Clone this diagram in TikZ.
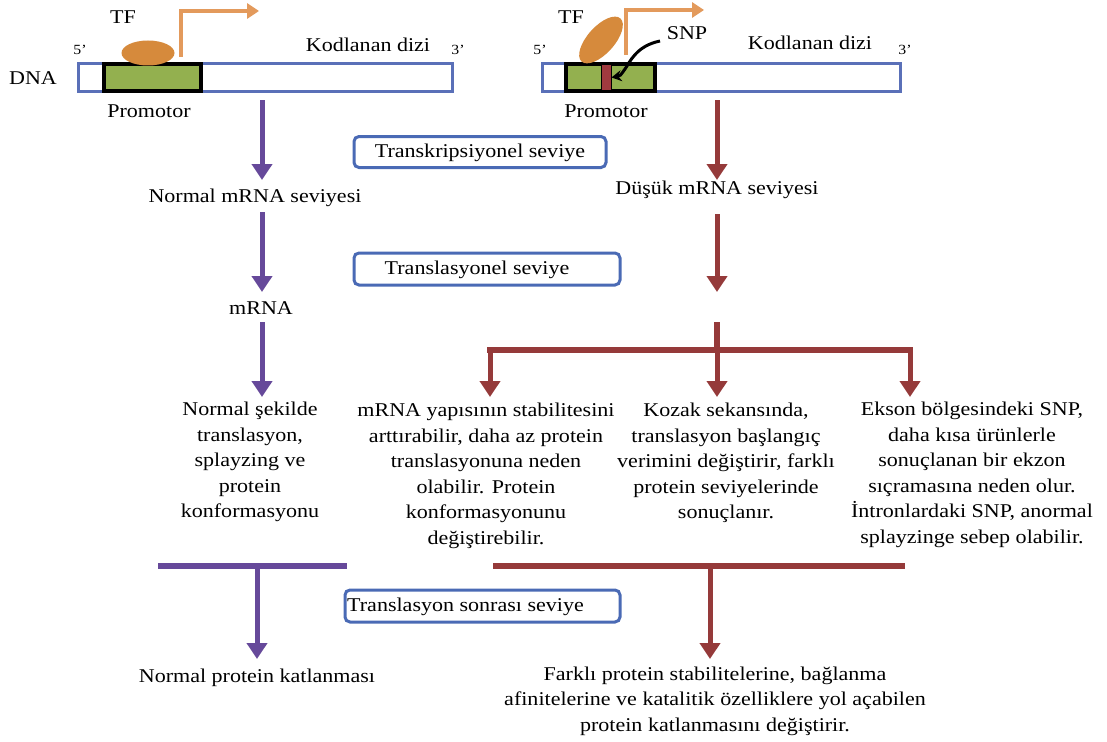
\documentclass[tikz,border=0pt]{standalone}
\usepackage{fontspec}
\setmainfont{Liberation Serif}[FakeStretch=1.13]
\usetikzlibrary{arrows.meta,shapes.geometric}
\definecolor{purp}{HTML}{66499A}
\definecolor{darkred}{HTML}{953A3A}
\definecolor{boxblue}{HTML}{4A6AB5}
\definecolor{dnablue}{HTML}{5A70B8}
\definecolor{promgreen}{HTML}{93B04F}
\definecolor{tforange}{HTML}{D68A3C}
\definecolor{arrorange}{HTML}{E39A5C}
\definecolor{snpred}{HTML}{A03A3F}
\begin{document}
\begin{tikzpicture}[x=1bp,y=-1bp,
  txt/.style={font=\fontsize{19.5bp}{25.5bp}\selectfont, align=center, inner sep=0pt},
  small/.style={font=\fontsize{14bp}{16bp}\selectfont, inner sep=0pt},
  lvl/.style={draw=boxblue, line width=3bp, rounded corners=5bp, inner sep=0pt},
  dnabox/.style={draw=dnablue, line width=3bp, fill=white, inner sep=0pt, minimum height=27bp},
  prom/.style={draw=black, line width=3.5bp, fill=promgreen, inner sep=0pt, minimum height=27bp},
  tf/.style={ellipse, fill=tforange, inner sep=0pt},
  parr/.style={draw=purp, line width=5bp, -{Triangle[width=20bp,length=16bp]}},
  rarr/.style={draw=darkred, line width=5bp, -{Triangle[width=20bp,length=16bp]}},
  pline/.style={draw=purp, line width=5.5bp},
  rline/.style={draw=darkred, line width=5.5bp},
  oarr/.style={draw=arrorange, line width=3.5bp, -{Triangle[width=15bp,length=12bp]}}
]
\useasboundingbox (0,0) rectangle (1107,742);
\fill[white] (0,0) rectangle (1107,742);

% ---- left DNA ----
\node[dnabox, minimum width=373bp] (dnaL) at (265.5,77.5) {};
\node[prom, minimum width=97bp] (promL) at (152.5,77.5) {};
\node[tf, minimum width=53bp, minimum height=25bp] (tfL) at (148,53) {};
\coordinate (oL0) at (181,57);
\coordinate (oL1) at (259,11);
\draw[oarr] (oL0) |- (oL1);
\node[txt] (tfLt) at (123,17) {TF};
\node[small] (fiveL) at (80,50) {5’};
\node[txt] (kodL) at (368,45) {Kodlanan dizi};
\node[small] (threeL) at (458,50) {3’};
\node[txt] (dna) at (33,78) {DNA};
\node[txt] (promLt) at (149,111) {Promotor};

% ---- right DNA ----
\node[dnabox, minimum width=358bp] (dnaR) at (721,77.5) {};
\node[prom, minimum width=89bp] (promR) at (610.5,77.5) {};
\node[draw=black, line width=1bp, fill=snpred, inner sep=0pt, minimum width=10bp, minimum height=26bp] (snp) at (606,77.5) {};
\node[tf, minimum width=58bp, minimum height=27bp, rotate=48] (tfR) at (601,40) {};
\coordinate (oR0) at (626,55);
\coordinate (oR1) at (704,10);
\draw[oarr] (oR0) |- (oR1);
\node[txt] (tfRt) at (571,17) {TF};
\node[txt] (snpt) at (687,33) {SNP};
\coordinate (snps) at (660,41);
\draw[line width=3bp, -{Stealth[length=10bp,width=11bp]}] (snps) .. controls (636,46) and (630,62) .. (625,69) .. controls (620,76) .. (snp.east);
\node[small] (fiveR) at (540,50) {5’};
\node[txt] (kodR) at (810,43) {Kodlanan dizi};
\node[small] (threeR) at (905,50) {3’};
\node[txt] (promRt) at (606,111) {Promotor};

% ---- level boxes ----
\node[lvl, minimum width=252bp, minimum height=31bp] (lv1) at (480,152) {};
\node[txt] (lv1t) at (480,153) {Transkripsiyonel seviye};
\node[lvl, minimum width=266bp, minimum height=32bp] (lv2) at (487,269) {};
\node[txt] (lv2t) at (477,270) {Translasyonel seviye};
\node[lvl, minimum width=275bp, minimum height=32bp] (lv3) at (482.5,606) {};
\node[txt, anchor=west] (lv3t) at (347,607) {Translasyon sonrası seviye};

% ---- left column ----
\node[txt] (nmrna) at (255,198) {Normal mRNA seviyesi};
\node[txt] (mrna) at (261,308) {mRNA};
\node[txt] (normtr) at (250,462) {Normal şekilde\\translasyon,\\splayzing ve\\protein\\konformasyonu};
\node[txt] (normfold) at (257,678) {Normal protein katlanması};

\coordinate (pa0) at (262,100);
\coordinate (pa1) at (262,180);
\coordinate (pb0) at (262,212);
\coordinate (pb1) at (262,292);
\coordinate (pc0) at (262,322);
\coordinate (pc1) at (262,397);
\draw[parr] (pa0) -- (pa1);
\draw[parr] (pb0) -- (pb1);
\draw[parr] (pc0) -- (pc1);

\coordinate (pl0) at (158,566);
\coordinate (pl1) at (347,566);
\coordinate (pd0) at (257,566);
\coordinate (pd1) at (257,659);
\draw[pline] (pl0) -- (pl1);
\draw[parr] (pd0) -- (pd1);

% ---- right column ----
\node[txt] (dmrna) at (717,190) {Düşük mRNA seviyesi};
\node[txt] (stab) at (486,476) {mRNA yapısının stabilitesini\\arttırabilir, daha az protein\\translasyonuna neden\\olabilir. Protein\\konformasyonunu\\değiştirebilir.};
\node[txt] (kozak) at (726,463) {Kozak sekansında,\\translasyon başlangıç\\verimini değiştirir, farklı\\protein seviyelerinde\\sonuçlanır.};
\node[txt] (ekson) at (972,475) {Ekson bölgesindeki SNP,\\daha kısa ürünlerle\\sonuçlanan bir ekzon\\sıçramasına neden olur.\\İntronlardaki SNP, anormal\\splayzinge sebep olabilir.};
\node[txt] (difffold) at (715,701) {Farklı protein stabilitelerine, bağlanma\\afinitelerine ve katalitik özelliklere yol açabilen\\protein katlanmasını değiştirir.};

\coordinate (ra0) at (717,100);
\coordinate (ra1) at (717,180);
\coordinate (rb0) at (717,214);
\coordinate (rb1) at (717,292);
\coordinate (rc0) at (717,322);
\coordinate (rh) at (717,350);
\coordinate (rhl) at (490,350);
\coordinate (rhr) at (910,350);
\coordinate (rl1) at (490,397);
\coordinate (rm1) at (717,397);
\coordinate (rr1) at (910,397);
\draw[rarr] (ra0) -- (ra1);
\draw[rarr] (rb0) -- (rb1);
\draw[rline] (rc0) -- (rh);
\draw[rline, line cap=rect] (rhl) -- (rhr);
\draw[rarr] (rhl) -- (rl1);
\draw[rarr] (rh) -- (rm1);
\draw[rarr] (rhr) -- (rr1);

\coordinate (rq0) at (493,566);
\coordinate (rq1) at (905,566);
\coordinate (re0) at (710,566);
\coordinate (re1) at (710,659);
\draw[rline] (rq0) -- (rq1);
\draw[rarr] (re0) -- (re1);
\end{tikzpicture}
\end{document}
